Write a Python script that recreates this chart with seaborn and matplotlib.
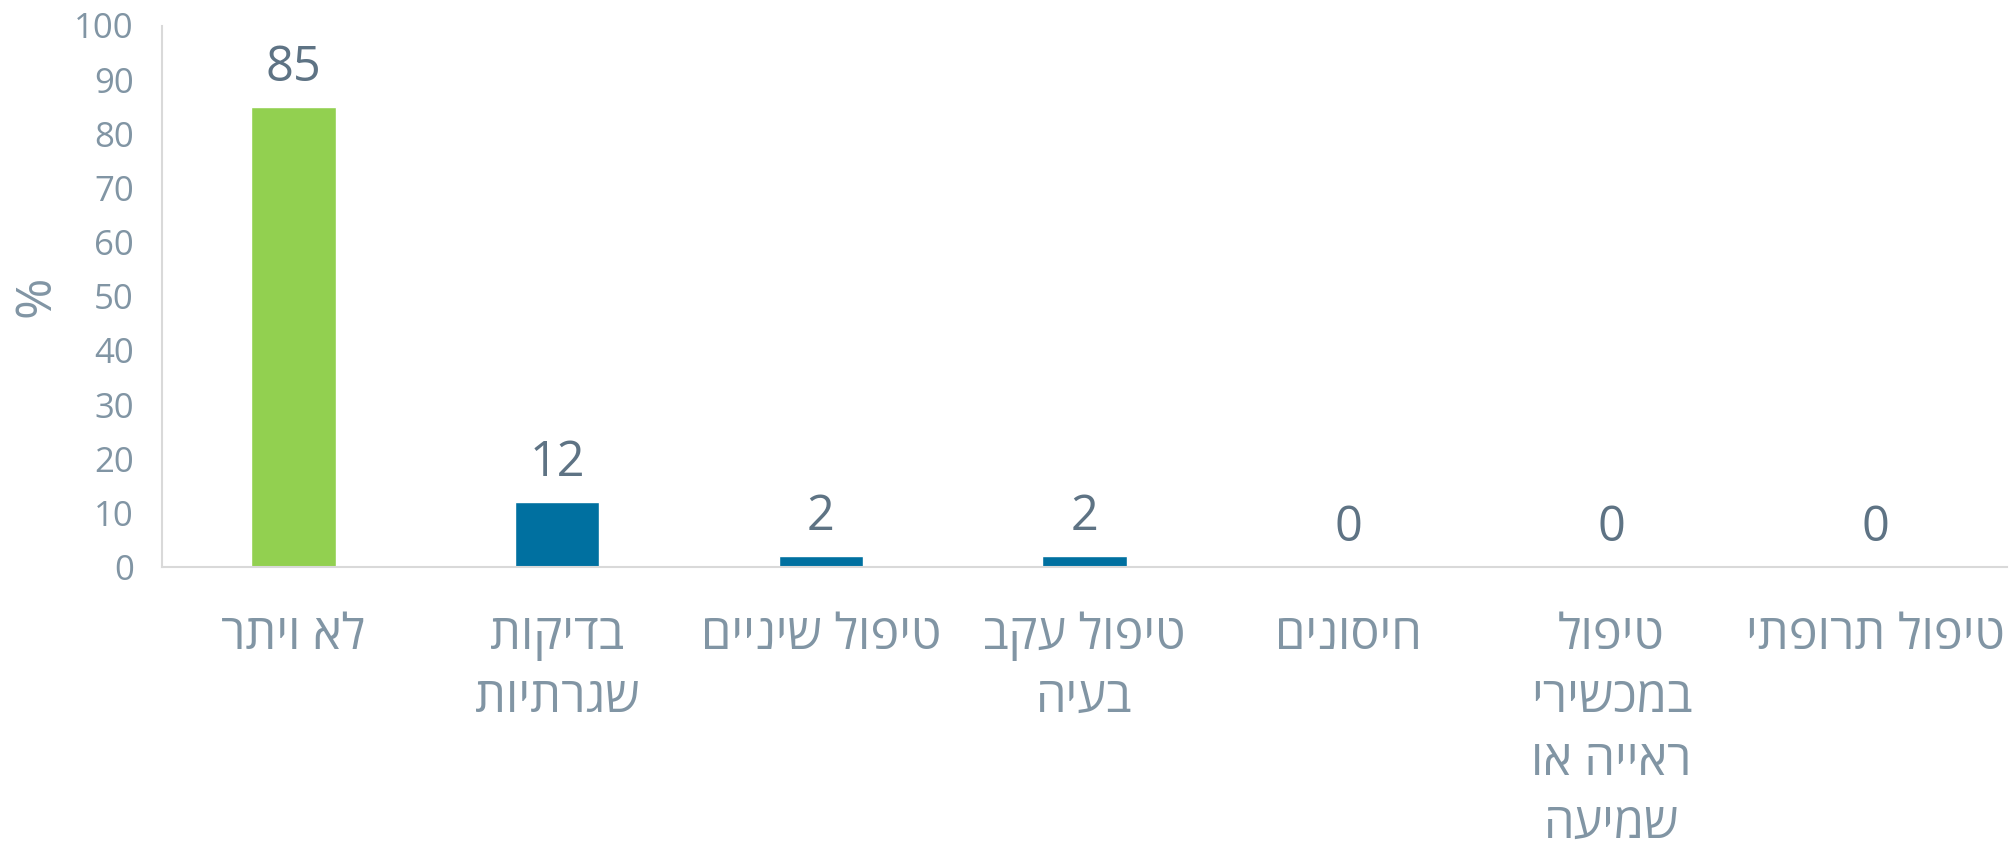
import matplotlib
matplotlib.use("Agg")
import matplotlib.pyplot as plt
from matplotlib.ticker import MultipleLocator
import seaborn as sns
import pandas as pd

sns.set_style("white")
plt.rcParams['font.family'] = ['Open Sans', 'DejaVu Sans']

# data
categories = ["לא ויתר", "בדיקות\nשגרתיות", "טיפול שיניים", "טיפול עקב\nבעיה",
              "חיסונים", "טיפול\nבמכשירי\nראייה או\nשמיעה", "טיפול תרופתי"]
values = [85, 12, 2, 2, 0, 0, 0]
groups = ["top", "rest", "rest", "rest", "rest", "rest", "rest"]

tick_col = "#8195A4"
lab_col = "#5E7384"
spine_col = "#D9D9D9"

# matplotlib draws left to right, so flip each hebrew line by hand
def rtl(s):
    return "\n".join(line[::-1] for line in s.split("\n"))

df = pd.DataFrame({"pos": range(len(values)), "val": values, "grp": groups})

fig = plt.figure(figsize=(20.11, 8.5), dpi=100)
ax = fig.add_axes([0.0804, 0.333, 0.9176, 0.637])

sns.barplot(data=df, x="pos", y="val", hue="grp", dodge=False, width=0.32,
            palette={"top": "#92D050", "rest": "#0070A0"}, legend=False, ax=ax,
            saturation=1)

for i, v in enumerate(values):
    ax.annotate(str(v), (i, v), xytext=(0, 10), textcoords="offset points",
                ha="center", va="bottom", fontsize=35, color=lab_col)

ax.set_xlim(-0.5, len(values) - 0.5)
ax.set_ylim(0, 100)
ax.yaxis.set_major_locator(MultipleLocator(10))
ax.tick_params(axis="y", labelsize=25, colors=tick_col, length=11, width=1.2,
               color=spine_col, pad=9)

ax.set_xticks(range(len(values)))
ax.set_xticklabels([rtl(c) for c in categories], fontsize=35, color=tick_col,
                   linespacing=1.36)
ax.tick_params(axis="x", length=0, pad=32)
ax.set_xticks([i - 0.5 for i in range(len(values) + 1)], minor=True)
ax.tick_params(axis="x", which="minor", length=12, width=1.2, color=spine_col)

ax.set_xlabel("")
ax.set_ylabel("%", fontsize=36, color=tick_col, labelpad=9)

for s in ["top", "right"]:
    ax.spines[s].set_visible(False)
for s in ["left", "bottom"]:
    ax.spines[s].set_color(spine_col)
    ax.spines[s].set_linewidth(1.5)

fig.savefig("out.png", dpi=100)
